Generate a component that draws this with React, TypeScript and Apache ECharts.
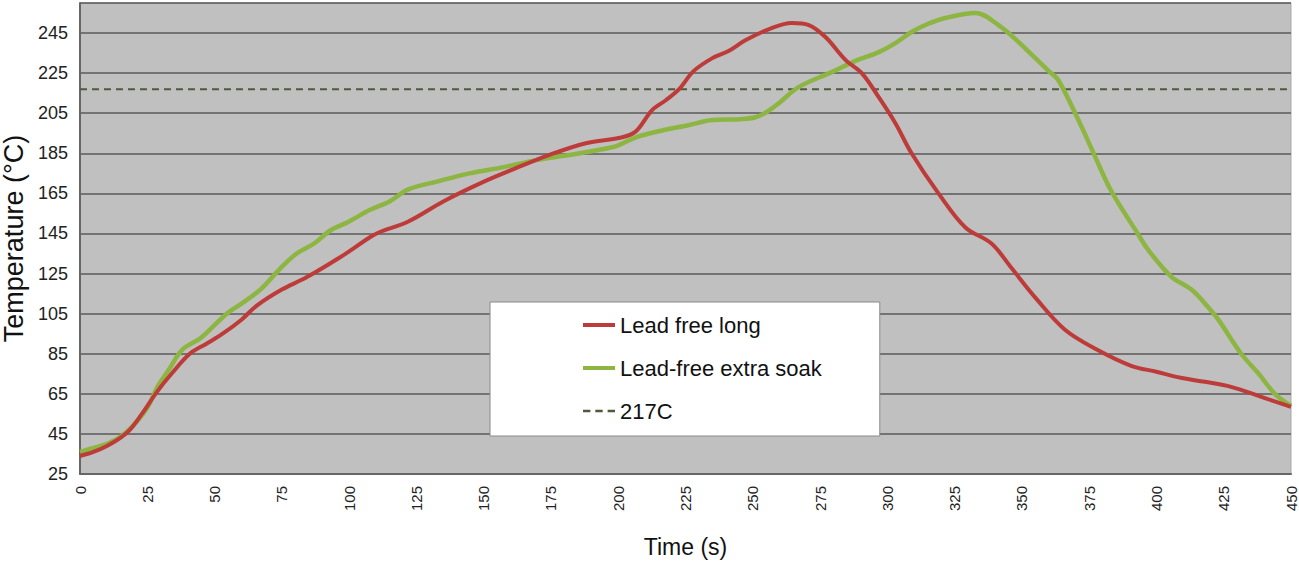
import React, { useEffect, useRef } from "react";
import * as echarts from "echarts";

const redTimes = [0, 5, 10, 15, 18.5, 23, 28.6, 34, 40.8, 47, 53, 60, 65.7, 75, 84, 96.5, 107.6, 111, 122, 135, 149.5, 162, 174, 188, 201.5, 206.6, 212.6, 217.8, 222.6, 228, 235, 241, 247.4, 257, 264.5, 270.8, 277, 284.5, 290.5, 296.8, 303, 309, 319, 329, 338.7, 346, 355, 366, 378, 390.6, 400, 409, 418, 427.7, 440, 450];
const redTemps = [34, 36, 39, 43, 47, 55, 66, 75, 85, 90, 95, 102, 109, 117, 123, 133, 143, 145.5, 151, 161, 170.5, 177.6, 184, 190, 193, 196, 206.6, 211.6, 217, 226, 232.5, 236, 241.5, 247.5, 250, 249, 243, 231.5, 225, 213, 200, 185, 165, 148, 140, 128, 113, 97, 87, 79, 76, 73, 71, 68.5, 63, 58.5];

const greenTimes = [0, 5, 10, 15, 20, 25, 28.6, 33, 38, 45, 54.5, 60, 67, 74, 80.5, 87, 93, 100, 107.6, 115, 122, 133, 144.7, 157, 169.5, 181, 194, 200, 206.6, 215, 226, 235, 245, 251, 255, 259.7, 267, 279.3, 288, 296.8, 303, 309, 315, 321.6, 332.8, 341.3, 348, 355, 360, 363.5, 371, 377, 383, 393, 397, 405.5, 413, 419, 423, 431.5, 438, 444, 450];
const greenTemps = [36, 38, 40, 43.5, 49.5, 58, 68, 77, 87, 93, 105, 110, 117, 127, 135, 140, 146.5, 151, 156.7, 161, 167, 171, 175, 178, 181.6, 184, 187, 189, 193, 196, 199, 201.6, 202, 203, 205.5, 210, 218, 225.5, 231, 235.5, 240, 245.5, 249.5, 252.5, 255, 249, 241.5, 232.5, 226, 221.6, 201.6, 184, 166.7, 145, 136.7, 123.5, 117, 108.6, 102, 85, 75, 65, 59];

const refTimes = [0, 450];
const refTemps = [217, 217];

const seriesNames = ["Lead free long", "Lead-free extra soak", "217C"];
const xTitle = "Time (s)";
const yTitle = "Temperature (°C)";

const pair = (xs: number[], ys: number[]) => xs.map((x, i) => [x, ys[i]]);

const SANS = "'Liberation Sans', Arial, sans-serif";
const RED = "#bd3b38";
const GREEN = "#8db541";
const DASH = "#4e5a3c";

export default function App() {
  const ref = useRef<HTMLDivElement>(null);
  useEffect(() => {
    if (!ref.current) return;
    const chart = echarts.init(ref.current, undefined, { renderer: "svg" });
    chart.setOption({
      animation: false,
      backgroundColor: "#ffffff",
      grid: {
        left: 80,
        right: 8,
        top: 3,
        bottom: 89,
        show: true,
        backgroundColor: "#c0c0c0",
        borderColor: "#a9a9a9",
        borderWidth: 1,
        containLabel: false,
        outerBoundsMode: "none",
      },
      legend: {
        left: 490,
        top: 302,
        orient: "vertical",
        backgroundColor: "#ffffff",
        borderColor: "#8a8a8a",
        borderWidth: 1,
        padding: [12, 58, 14, 93],
        itemGap: 21,
        itemWidth: 32,
        itemHeight: 4,
        textStyle: { fontFamily: SANS, fontSize: 22, color: "#111" },
        data: [
          { name: seriesNames[0], icon: "rect", itemStyle: { color: RED, borderWidth: 0 } },
          { name: seriesNames[1], icon: "rect", itemStyle: { color: GREEN, borderWidth: 0 } },
          {
            name: seriesNames[2],
            icon: "path://M0,0H6V2H0Z M10,0H16V2H10Z M20,0H26V2H20Z",
            itemStyle: { color: DASH, borderWidth: 0 },
          },
        ],
      },
      xAxis: {
        type: "value",
        min: 0,
        max: 450,
        interval: 25,
        name: xTitle,
        nameLocation: "middle",
        nameGap: 61,
        nameTextStyle: { fontFamily: SANS, fontSize: 23, color: "#111" },
        axisLine: { show: true, lineStyle: { color: "#666", width: 2 } },
        axisTick: { show: false },
        splitLine: { show: false },
        axisLabel: {
          rotate: 90,
          margin: 12,
          fontFamily: SANS,
          fontSize: 15,
          lineHeight: 10,
          color: "#222",
        },
      },
      yAxis: {
        type: "value",
        min: 25,
        max: 260,
        interval: 20,
        name: yTitle,
        nameLocation: "middle",
        nameGap: 47,
        nameTextStyle: { fontFamily: SANS, fontSize: 27, color: "#111" },
        axisLine: { show: true, lineStyle: { color: "#666", width: 2 } },
        axisTick: { show: false },
        splitLine: { show: true, lineStyle: { color: "#5a5a5a", width: 1.5 } },
        axisLabel: {
          margin: 12,
          fontFamily: SANS,
          fontSize: 18,
          color: "#222",
          formatter: (v: number) => (v === 260 ? "" : String(v)),
        },
      },
      series: [
        {
          name: seriesNames[0],
          type: "line",
          data: pair(redTimes, redTemps),
          symbol: "none",
          smooth: 0.35,
          lineStyle: { color: RED, width: 4 },
          itemStyle: { color: RED },
          z: 3,
        },
        {
          name: seriesNames[1],
          type: "line",
          data: pair(greenTimes, greenTemps),
          symbol: "none",
          smooth: 0.35,
          lineStyle: { color: GREEN, width: 4.5 },
          itemStyle: { color: GREEN },
          z: 2,
        },
        {
          name: seriesNames[2],
          type: "line",
          data: pair(refTimes, refTemps),
          symbol: "none",
          lineStyle: { color: DASH, width: 2, type: [7, 5] },
          itemStyle: { color: DASH },
          z: 1,
        },
      ],
    });
    return () => chart.dispose();
  }, []);
  return (
    <div
      ref={ref}
      style={{ position: "fixed", left: 0, top: 0, width: 1299, height: 563 }}
    />
  );
}
